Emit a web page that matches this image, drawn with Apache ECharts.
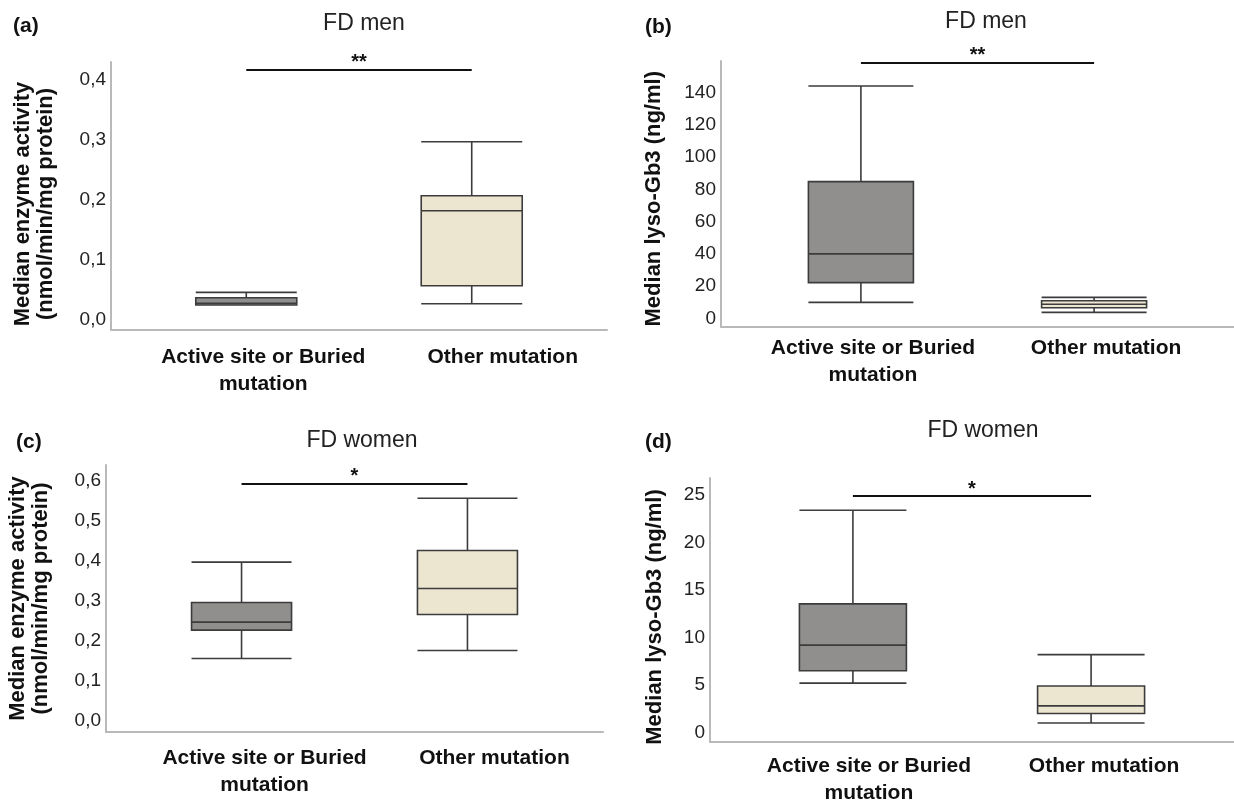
<!DOCTYPE html>
<html>
<head>
<meta charset="utf-8">
<script src="https://cdn.jsdelivr.net/npm/echarts@6/dist/echarts.min.js"></script>
<style>
html,body{margin:0;padding:0;background:#fff;}
#chart{width:1234px;height:807px;}
</style>
</head>
<body>
<div id="chart"></div>
<script>
// ---------- data ----------
const categories = ['Active site or Buried\nmutation', 'Other mutation'];
const panelTags = ['(a)', '(b)', '(c)', '(d)'];
const panelTitles = ['FD men', 'FD men', 'FD women', 'FD women'];
const yAxisNames = [
  'Median enzyme activity\n(nmol/min/mg protein)',
  'Median lyso-Gb3 (ng/ml)',
  'Median enzyme activity\n(nmol/min/mg protein)',
  'Median lyso-Gb3 (ng/ml)'
];
// box stats: [min, Q1, median, Q3, max]
const menEnzymeActive   = [0.025, 0.025, 0.028, 0.037, 0.046];
const menEnzymeOther    = [0.027, 0.057, 0.182, 0.207, 0.297];
const menLysoActive     = [10.0, 22.2, 40.0, 84.8, 144.0];
const menLysoOther      = [3.8, 6.7, 8.8, 11.0, 13.1];
const womenEnzymeActive = [0.156, 0.227, 0.247, 0.296, 0.397];
const womenEnzymeOther  = [0.176, 0.266, 0.331, 0.426, 0.557];
const womenLysoActive   = [5.2, 6.5, 9.2, 13.55, 23.4];
const womenLysoOther    = [1.0, 2.0, 2.8, 4.9, 8.2];
// tick values
const menEnzymeTicks   = [0, 0.1, 0.2, 0.3, 0.4];
const menLysoTicks     = [0, 20, 40, 60, 80, 100, 120, 140];
const womenEnzymeTicks = [0, 0.1, 0.2, 0.3, 0.4, 0.5, 0.6];
const womenLysoTicks   = [0, 5, 10, 15, 20, 25];
// significance bars
const sigMarks  = ['**', '**', '*', '*'];
const sigLevels = [0.4167, 158.7, 0.593, 24.9];

const boxes = [
  [menEnzymeActive, menEnzymeOther],
  [menLysoActive, menLysoOther],
  [womenEnzymeActive, womenEnzymeOther],
  [womenLysoActive, womenLysoOther]
];
const ticks = [menEnzymeTicks, menLysoTicks, womenEnzymeTicks, womenLysoTicks];
const tickDecimals = [1, 0, 1, 0];

// ---------- layout / style ----------
const FONT = '"Liberation Sans", Arial, Helvetica, sans-serif';
const GRAY = '#918e8e';
const BEIGE = '#ece5cf';
const AXIS = '#b9b9b9';
const X_MIN = -0.6, X_MAX = 1.6;

const layout = [
  {left:111, top:62,  width:496, height:268,   yMin:-0.0167, yMax:0.43,  boxW:101, nameGap:54, namePad:16, lblMargin:14,  shift:[17,31], title:[364,24],  tag:[13,26]},
  {left:721, top:61,  width:513, height:265.5, yMin:-4.96,   yMax:159.5, boxW:105, nameGap:56, namePad:10, lblMargin:8.5, shift:[12,12], title:[986,22],  tag:[645,27]},
  {left:106, top:465, width:497, height:267,   yMin:-0.028,  yMax:0.64,  boxW:100, nameGap:54, namePad:0,  lblMargin:13,  shift:[23,27], title:[362,441], tag:[16,442]},
  {left:710, top:478, width:524, height:268,   yMin:-1.0,    yMax:26.8,  boxW:107, nameGap:44, namePad:14, lblMargin:11,  shift:[16,13], title:[983,431], tag:[645,442]}
];

const grids = [], xAxes = [], yAxes = [], series = [], graphics = [];

layout.forEach((L, i) => {
  grids.push({left:L.left, top:L.top, width:L.width, height:L.height, containLabel:false});
  const unit = L.width / (X_MAX - X_MIN);
  const labelPos = categories.map((c, k) => k + L.shift[k] / unit);
  xAxes.push({
    type:'value', gridIndex:i, min:X_MIN, max:X_MAX,
    axisLine:{show:true, onZero:false, lineStyle:{color:AXIS, width:2}},
    axisTick:{show:false}, splitLine:{show:false},
    axisLabel:{
      show:true, customValues:labelPos, margin:L.lblMargin,
      formatter:v => categories[Math.round(v)],
      fontFamily:FONT, fontSize:21, fontWeight:'bold', color:'#111', lineHeight:27,
      verticalAlign:'top', align:'center'
    }
  });
  const dec = tickDecimals[i];
  yAxes.push({
    type:'value', gridIndex:i, min:L.yMin, max:L.yMax,
    axisLine:{show:true, onZero:false, lineStyle:{color:AXIS, width:2}},
    axisTick:{show:false}, splitLine:{show:false},
    axisLabel:{
      show:true, customValues:ticks[i], margin:5,
      formatter:v => Number(v).toFixed(dec).replace('.', ','),
      fontFamily:FONT, fontSize:19, color:'#222'
    },
    name:yAxisNames[i], nameLocation:'middle', nameRotate:90, nameGap:L.nameGap,
    nameTextStyle:{fontFamily:FONT, fontSize:22, fontWeight:'bold', color:'#111', lineHeight:23,
      padding:[0, L.namePad, 0, 0]}
  });
  const colors = [GRAY, BEIGE];
  series.push({
    type:'boxplot', xAxisIndex:i, yAxisIndex:i, silent:true,
    boxWidth:[L.boxW, L.boxW],
    itemStyle:{borderColor:'#3c3c3c', borderWidth:1.6},
    emphasis:{disabled:true},
    data:boxes[i].map((b, k) => ({value:[k].concat(b), itemStyle:{color:colors[k], borderColor:'#3c3c3c'}})),
    markLine:{
      silent:true, symbol:'none', animation:false,
      lineStyle:{color:'#111', width:2.2, type:'solid'},
      label:{show:true, position:'middle', formatter:sigMarks[i], fontFamily:FONT, fontSize:20,
        fontWeight:'bold', color:'#111', distance:-3},
      emphasis:{disabled:true},
      data:[[{coord:[0, sigLevels[i]]}, {coord:[1, sigLevels[i]]}]]
    }
  });
  graphics.push({type:'text', x:L.title[0], y:L.title[1],
    style:{text:panelTitles[i], font:'23px ' + FONT, fill:'#222', align:'center', verticalAlign:'middle'}});
  graphics.push({type:'text', x:L.tag[0], y:L.tag[1],
    style:{text:panelTags[i], font:'bold 21px ' + FONT, fill:'#111', align:'left', verticalAlign:'middle'}});
});

const chart = echarts.init(document.getElementById('chart'), null, {renderer:'canvas'});
chart.setOption({
  backgroundColor:'#ffffff',
  animation:false,
  grid:grids, xAxis:xAxes, yAxis:yAxes, series:series,
  graphic:graphics
});
</script>
</body>
</html>
